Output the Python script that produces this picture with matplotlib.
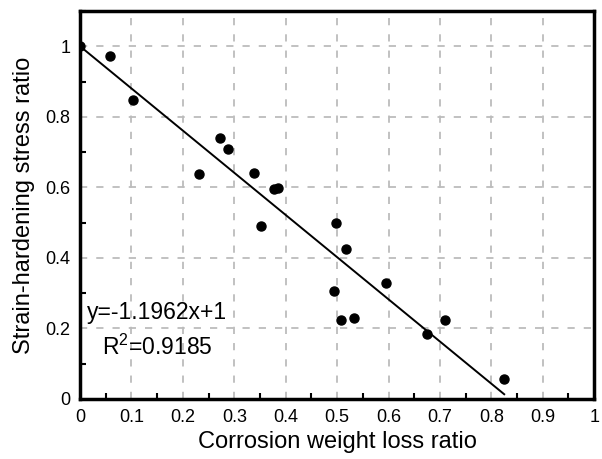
import numpy as np
import matplotlib
matplotlib.use('Agg')
import matplotlib.pyplot as plt
from matplotlib.ticker import MultipleLocator

plt.rcParams['font.family'] = ['Liberation Sans', 'DejaVu Sans']
plt.rcParams['mathtext.fontset'] = 'custom'
plt.rcParams['mathtext.rm'] = 'Liberation Sans'
plt.rcParams['mathtext.it'] = 'Liberation Sans'

# Measured points: corrosion weight loss ratio vs strain-hardening stress ratio
loss_ratio = [0.0, 0.059, 0.102, 0.232, 0.273, 0.287, 0.338, 0.352, 0.378, 0.385,
              0.497, 0.517, 0.494, 0.596, 0.507, 0.533, 0.709, 0.674, 0.825]
stress_ratio = [1.0, 0.972, 0.847, 0.637, 0.740, 0.710, 0.640, 0.491, 0.594, 0.599,
                0.500, 0.425, 0.305, 0.330, 0.225, 0.229, 0.225, 0.183, 0.055]

# Linear fit shown on the chart
slope = -1.1962
intercept = 1.0
r2 = 0.9185


def main():
    fig = plt.figure(figsize=(6.02, 4.59), dpi=100)
    ax = fig.add_axes([0.133, 0.131, 0.854, 0.845])

    ax.grid(True, which='major', color='#bcbcbc', linestyle=(0, (4, 5)), linewidth=1.3)
    ax.set_axisbelow(True)

    fit_x = np.array([0.0, max(loss_ratio)])
    ax.plot(fit_x, slope * fit_x + intercept, color='black', linewidth=1.4, zorder=3)
    ax.plot(loss_ratio, stress_ratio, 'o', color='black', markersize=6.5, zorder=4)

    ax.set_xlim(0, 1)
    ax.set_ylim(0, 1.1)
    ax.xaxis.set_minor_locator(MultipleLocator(0.05))
    ax.yaxis.set_minor_locator(MultipleLocator(0.1))
    ax.set_xticks([i / 10 for i in range(11)])
    ax.set_xticklabels(['0', '0.1', '0.2', '0.3', '0.4', '0.5', '0.6', '0.7', '0.8', '0.9', '1'])
    ax.set_yticks([0, 0.2, 0.4, 0.6, 0.8, 1.0])
    ax.set_yticklabels(['0', '0.2', '0.4', '0.6', '0.8', '1'])

    ax.tick_params(which='major', length=0, labelsize=13, pad=7)
    ax.tick_params(which='minor', direction='in', length=4, width=1.5, color='black')

    for spine in ax.spines.values():
        spine.set_linewidth(2.5)

    ax.set_xlabel('Corrosion weight loss ratio', fontsize=17, labelpad=4)
    ax.set_ylabel('Strain-hardening stress ratio', fontsize=17, labelpad=7)

    ax.text(0.013, 0.246, 'y=-1.1962x+1', fontsize=16.5, va='center', ha='left')
    ax.text(0.042, 0.145, r'R$^{2}$=0.9185', fontsize=16.5, va='center', ha='left')

    fig.savefig('out.png', dpi=100)


if __name__ == '__main__':
    main()
